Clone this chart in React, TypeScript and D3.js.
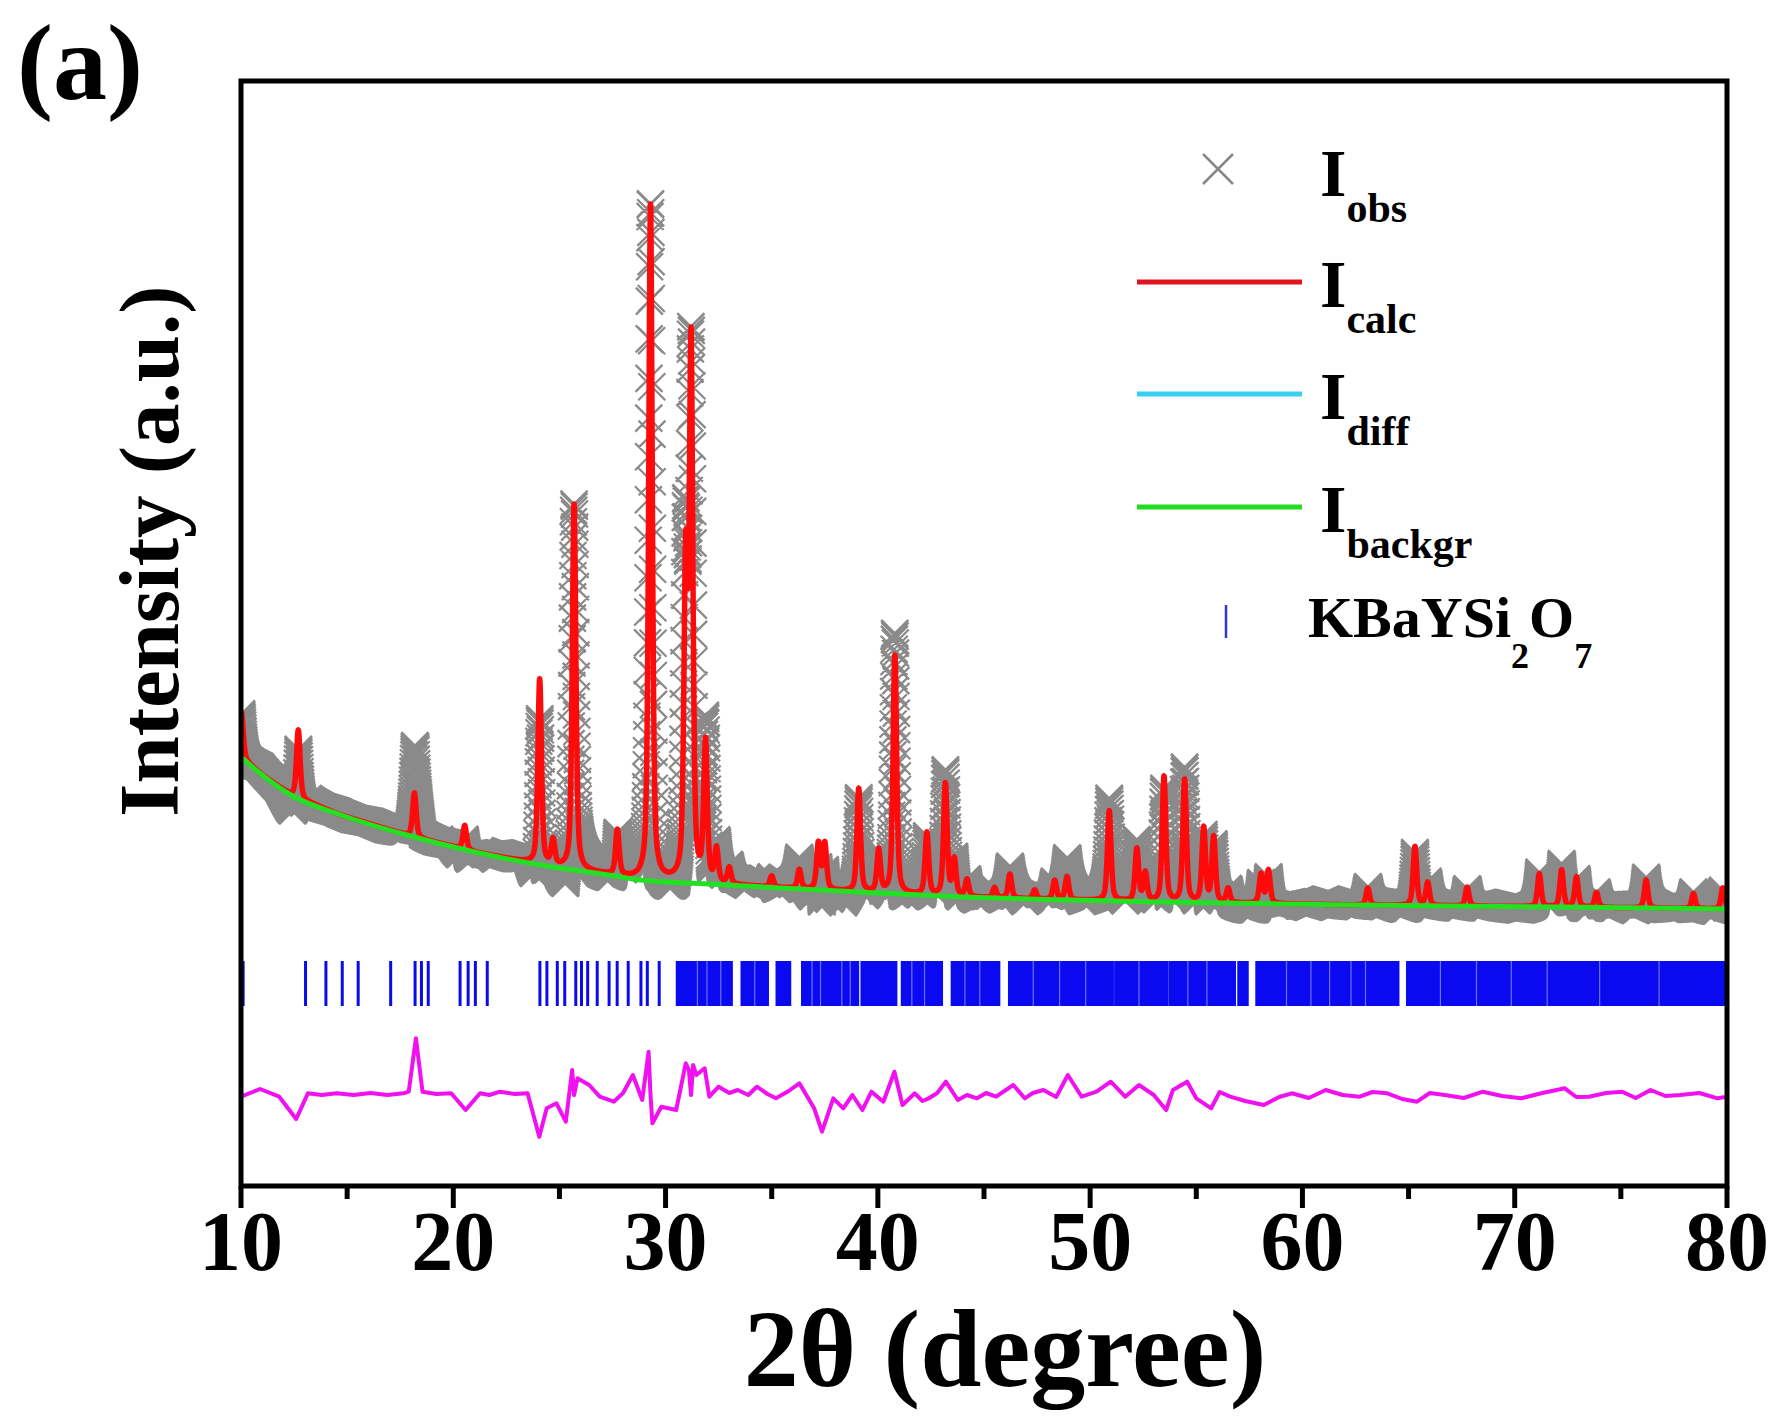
import React from 'react';
import * as d3 from 'd3';

// ---------- data ----------
const xMajorTicks = [10, 20, 30, 40, 50, 60, 70, 80];
const xMinorTicks = [15, 25, 35, 45, 55, 65, 75];

// Bragg-reflection peaks of the calculated pattern (2θ, height above background)
const peakPos = [
  10.02, 12.7, 18.17, 20.54, 24.07, 24.7, 25.69, 27.73, 29.29, 30.95, 31.2, 31.88,
  32.4, 33.0, 35.0, 36.3, 37.2, 37.5, 39.1, 40.04, 40.8, 42.31, 43.18, 43.6, 44.2,
  45.5, 46.22, 47.39, 48.33, 48.91, 50.9, 52.2, 52.6, 53.48, 54.45, 55.35, 55.82,
  56.5, 58.05, 58.4, 63.08, 65.3, 65.9, 67.76, 71.16, 72.21, 72.91, 73.85, 76.19,
  78.42, 79.8,
];
const peakHeight = [
  450, 680, 440, 240, 1850, 250, 3650, 450, 6750, 3100, 5300, 1380,
  330, 160, 110, 190, 460, 460, 1030, 420, 2380, 620, 1120, 360, 170,
  100, 240, 90, 190, 230, 900, 520, 280, 1250, 1220, 740, 650,
  140, 290, 330, 170, 590, 230, 190, 330, 370, 300, 150, 280,
  150, 210,
];
const peakFWHM = 0.2;
const peakEta = 0.5;

// background (green) read at a few angles
const bgX = [10, 11, 12.35, 14.7, 17.8, 21, 24.1, 27.3, 28.8, 32, 36.35, 40, 44, 48, 53.25, 62.6, 72, 80];
const bgV = [3290, 3110, 2910, 2710, 2510, 2340, 2210, 2110, 2060, 2020, 1970, 1930, 1890, 1865, 1840, 1810, 1790, 1770];

// difference curve (magenta)
const diffX = [
  10, 10.9, 11.8, 12.6, 13.15, 13.8, 14.5, 15.3, 16.1, 16.9, 17.65, 17.9, 18.24, 18.55,
  19.2, 19.9, 20.58, 21.26, 21.7, 22.2, 22.9, 23.5, 24.05, 24.4, 24.86, 25.3, 25.6, 25.69,
  25.85, 26.4, 26.9, 27.56, 28.0, 28.46, 28.9, 29.2, 29.29, 29.38, 29.8, 30.5, 30.95,
  31.1, 31.2, 31.3, 31.45, 31.84, 32.06, 32.5, 33.0, 33.4, 33.9, 34.3, 34.8, 35.2, 35.8,
  36.3, 37.0, 37.37, 37.9, 38.37, 38.8, 39.27, 39.7, 40.26, 40.78, 41.16, 41.74, 42.1,
  42.4, 42.8, 43.2, 43.77, 44.2, 44.67, 45.1, 45.57, 46.38, 46.92, 47.3, 47.8, 48.4,
  48.95, 49.6, 50.3, 50.97, 51.65, 52.3, 53.0, 53.58, 53.9, 54.57, 55.0, 55.7, 56.1,
  56.6, 57.3, 58.18, 58.9, 59.5, 60.3, 61.1, 61.9, 62.7, 63.3, 64.0, 64.7, 65.4, 66.0,
  66.7, 67.6, 68.5, 69.4, 70.3, 71.3, 72.36, 72.9, 73.5, 74.3, 75.06, 75.7, 76.4, 77.1,
  77.8, 78.7, 79.56, 80,
];
const diffV = [
  -17, 60, -17, -240, 17, 0, 17, 0, 20, 0, 17, 33, 567, 33,
  10, 17, -150, 17, 0, 33, 10, 17, -417, -133, -83, -267, 250, 0,
  167, 100, -17, -67, 20, 200, -50, 433, 0, -283, -117, -150, 317,
  250, 0, 300, 200, 267, -17, 83, 20, 50, 0, 83, 10, -33, 40,
  117, -133, -367, -33, -133, 0, -150, 33, -67, 233, -100, 17, -60,
  -33, 20, 133, -50, 0, -33, 20, -17, 100, -33, 20, 50, -20,
  200, -17, 33, 133, -17, 100, 0, -150, 50, 133, -33, -133, 30,
  -17, -60, -100, -20, 17, -30, 50, 0, -17, 30, 17, -40, -67, 20,
  0, -30, 33, -10, -33, 20, 67, -20, -17, 20, 33, -30, 50, -10,
  0, 20, -33, -17,
];
const diffOffset = -90;

// Bragg positions of KBaYSi2O7: isolated reflections and densely packed ranges
const braggSingles = [
  10.1, 13.04, 14.0, 14.77, 15.52, 17.05, 18.2, 18.5, 18.82, 20.32, 20.7, 21.04, 21.6,
  24.08, 24.41, 24.9, 25.25, 25.77, 26.04, 26.33, 26.78, 27.34, 27.72, 28.24, 28.84,
  29.14, 29.7,
];
const braggRanges: [number, number][] = [
  [30.55, 31.1], [31.2, 33.1], [33.6, 34.8], [35.25, 35.85], [36.45, 37.7], [37.8, 39.05],
  [39.25, 40.0], [40.1, 40.85], [41.15, 43.0], [43.5, 45.7], [46.2, 51.05], [51.2, 53.6],
  [53.75, 56.8], [57.0, 57.4], [57.85, 64.5], [64.95, 80.0],
];
// thin light gaps seen inside the dense ranges
const braggGaps = [
  31.5, 31.95, 32.6, 34.2, 36.9, 37.3, 38.3, 38.7, 41.6, 42.2, 44.1, 44.8, 47.32, 48.56,
  49.79, 52.3, 54.6, 55.5, 59.25, 60.4, 61.28, 62.29, 62.97, 66.5, 68.2, 69.84, 71.53,
  74.0, 76.8,
];
const braggLow = 800;
const braggHigh = 1250;

const legendLabels = ['obs', 'calc', 'diff', 'backgr'];
const phaseName = ['KBaYSi', '2', 'O', '7'];

// ---------- component ----------
export default function App() {
  const W = 1774;
  const H = 1416;
  const L = 241, R = 1727, T = 81, B = 1186;
  const x = d3.scaleLinear().domain([10, 80]).range([L, R]);
  const y = d3.scaleLinear().domain([-1000, 10050]).range([B, T]);

  const bgScale = d3.scaleLinear().domain(bgX).range(bgV);
  const diffScale = d3.scaleLinear().domain(diffX).range(diffV);

  const xs = d3.range(10, 80.0001, 0.01);
  const hw = peakFWHM / 2;
  const profile = (t: number) => {
    let s = 0;
    for (let i = 0; i < peakPos.length; i++) {
      const dx = t - peakPos[i];
      if (Math.abs(dx) > 6) continue;
      const lor = 1 / (1 + (dx / hw) * (dx / hw));
      const gau = Math.exp(-4 * Math.LN2 * (dx / peakFWHM) * (dx / peakFWHM));
      s += peakHeight[i] * (peakEta * lor + (1 - peakEta) * gau);
    }
    return s;
  };
  const calc = xs.map((t) => ({ t, v: bgScale(t) + profile(t) }));
  const obs = calc.map((d) => ({ t: d.t, v: d.v + diffScale(d.t) }));

  const line = d3
    .line<{ t: number; v: number }>()
    .x((d) => x(d.t))
    .y((d) => y(d.v));

  const bgLine = d3
    .line<number>()
    .x((d) => x(d))
    .y((d, i) => y(bgV[i]))
    .curve(d3.curveMonotoneX);

  const diffLine = d3
    .line<number>()
    .x((d) => x(d))
    .y((d, i) => y(diffOffset + diffV[i]));

  const m = 13.5;
  let obsPath = '';
  for (const d of obs) {
    const px = x(d.t);
    const py = y(d.v);
    obsPath += `M${(px - m).toFixed(1)},${(py - m).toFixed(1)}L${(px + m).toFixed(1)},${(py + m).toFixed(1)}M${(px - m).toFixed(1)},${(py + m).toFixed(1)}L${(px + m).toFixed(1)},${(py - m).toFixed(1)}`;
  }

  const font = "'Liberation Serif', 'Times New Roman', serif";
  const legendYs = [196, 307, 419, 532];
  const legendColors = ['#888888', '#e0141e', '#38d0f0', '#20dd20'];

  return (
    <svg
      width={W}
      height={H}
      style={{ position: 'absolute', left: 0, top: 0, background: '#fff' }}
      fontFamily={font}
      fontWeight="bold"
    >
      <defs>
        <clipPath id="plotClip">
          <rect x={L} y={T} width={R - L} height={B - T} />
        </clipPath>
      </defs>
      <rect x={0} y={0} width={W} height={H} fill="#fff" />

      <g clipPath="url(#plotClip)">
        <path d={obsPath} stroke="#8a8a8a" strokeWidth={2.2} fill="none" />
        <path d={line(calc) || ''} stroke="#ff0a0a" strokeWidth={5.5} fill="none" strokeLinejoin="round" />
        <path d={bgLine(bgX) || ''} stroke="#22e022" strokeWidth={5} fill="none" />
        {braggSingles.map((p, i) => (
          <line key={'bs' + i} x1={x(p)} x2={x(p)} y1={y(braggLow)} y2={y(braggHigh)} stroke="#0a0af0" strokeWidth={3} />
        ))}
        {braggRanges.map((r, i) => (
          <rect
            key={'br' + i}
            x={x(r[0]) - 1.5}
            y={y(braggHigh)}
            width={x(r[1]) - x(r[0]) + 3}
            height={y(braggLow) - y(braggHigh)}
            fill="#0a0af0"
          />
        ))}
        {braggGaps.map((p, i) => (
          <line key={'bg' + i} x1={x(p)} x2={x(p)} y1={y(braggLow)} y2={y(braggHigh)} stroke="#6f6ff8" strokeWidth={1.2} />
        ))}
        <path d={diffLine(diffX) || ''} stroke="#f010f0" strokeWidth={4} fill="none" strokeLinejoin="round" />
      </g>

      {/* frame */}
      <rect x={L} y={T} width={R - L} height={B - T} fill="none" stroke="#000" strokeWidth={5} />
      {xMajorTicks.map((t) => (
        <line key={'M' + t} x1={x(t)} x2={x(t)} y1={B} y2={B + 22} stroke="#000" strokeWidth={5} />
      ))}
      {xMinorTicks.map((t) => (
        <line key={'m' + t} x1={x(t)} x2={x(t)} y1={B} y2={B + 13} stroke="#000" strokeWidth={5} />
      ))}
      {xMajorTicks.map((t) => (
        <text key={'l' + t} x={x(t)} y={1270} fontSize={84} textAnchor="middle" fill="#000">
          {t}
        </text>
      ))}

      <text x={1005} y={1386} fontSize={110} textAnchor="middle" fill="#000">
        2θ (degree)
      </text>
      <text transform="translate(178,551) rotate(-90)" fontSize={85} textAnchor="middle" fill="#000">
        Intensity (a.u.)
      </text>
      <text x={17} y={99} fontSize={108} fill="#000">
        (a)
      </text>

      {/* legend */}
      <path
        d={`M${1218 - 15},${169 - 15}L${1218 + 15},${169 + 15}M${1218 - 15},${169 + 15}L${1218 + 15},${169 - 15}`}
        stroke={legendColors[0]}
        strokeWidth={2.5}
      />
      {[1, 2, 3].map((i) => (
        <line key={'ll' + i} x1={1137} x2={1302} y1={legendYs[i] - 25} y2={legendYs[i] - 25} stroke={legendColors[i]} strokeWidth={5} />
      ))}
      {legendLabels.map((lab, i) => (
        <text key={'lt' + i} x={1320} y={legendYs[i]} fontSize={68} fill="#000">
          I
          <tspan dy={26} fontSize={42}>
            {lab}
          </tspan>
        </text>
      ))}
      <line x1={1226} x2={1226} y1={605} y2={638} stroke="#3535d0" strokeWidth={2.5} />
      <text x={1308} y={637} fontSize={58} fill="#000">
        {phaseName[0]}
        <tspan dy={31} fontSize={36}>
          {phaseName[1]}
        </tspan>
        <tspan dy={-31} fontSize={58}>
          {phaseName[2]}
        </tspan>
        <tspan dy={31} fontSize={36}>
          {phaseName[3]}
        </tspan>
      </text>
    </svg>
  );
}
